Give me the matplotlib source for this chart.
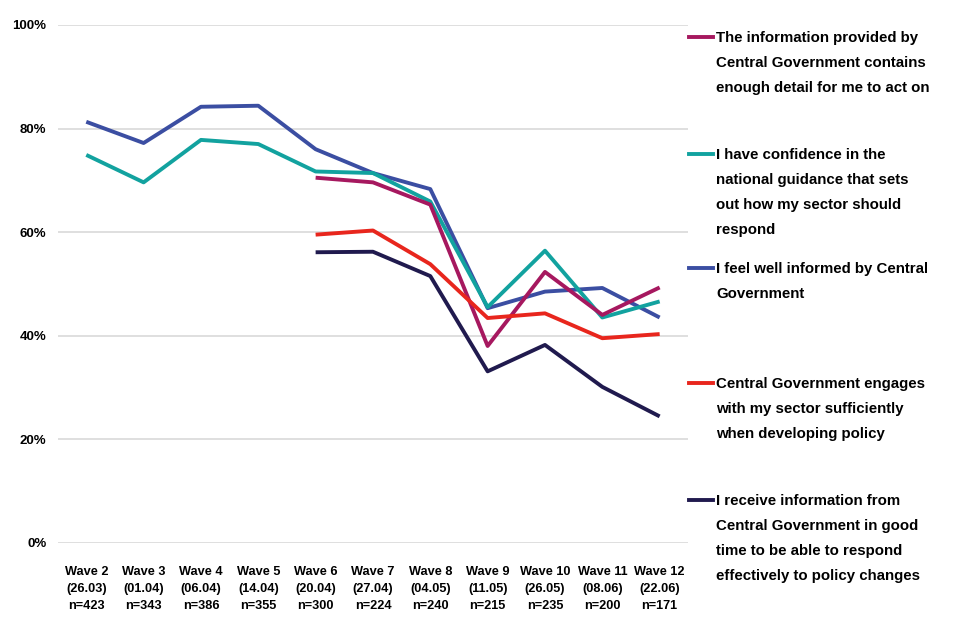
import matplotlib
matplotlib.use("Agg")
import matplotlib.pyplot as plt
from matplotlib.lines import Line2D
import numpy as np

plt.rcParams["font.family"] = ["Liberation Sans", "DejaVu Sans"]
plt.rcParams["font.weight"] = "bold"

waves = ["Wave 2", "Wave 3", "Wave 4", "Wave 5", "Wave 6", "Wave 7",
         "Wave 8", "Wave 9", "Wave 10", "Wave 11", "Wave 12"]
dates = ["26.03", "01.04", "06.04", "14.04", "20.04", "27.04",
         "04.05", "11.05", "26.05", "08.06", "22.06"]
sizes = [423, 343, 386, 355, 300, 224, 240, 215, 235, 200, 171]

nan = np.nan
detail = [nan, nan, nan, nan, 70.5, 69.6, 65.3, 38.0, 52.3, 44.0, 49.3]
confidence = [74.9, 69.6, 77.8, 77.0, 71.7, 71.4, 65.9, 45.5, 56.4, 43.5, 46.6]
informed = [81.3, 77.2, 84.2, 84.4, 76.0, 71.4, 68.3, 45.3, 48.5, 49.2, 43.5]
engages = [nan, nan, nan, nan, 59.5, 60.3, 53.8, 43.4, 44.3, 39.5, 40.3]
timely = [nan, nan, nan, nan, 56.1, 56.2, 51.5, 33.1, 38.2, 30.1, 24.4]

labels = [
    "The information provided by\nCentral Government contains\nenough detail for me to act on",
    "I have confidence in the\nnational guidance that sets\nout how my sector should\nrespond",
    "I feel well informed by Central\nGovernment",
    "Central Government engages\nwith my sector sufficiently\nwhen developing policy",
    "I receive information from\nCentral Government in good\ntime to be able to respond\neffectively to policy changes",
]
colors = ["#a6185f", "#12a29f", "#3b4ea2", "#e8261d", "#201a4e"]
series = [detail, confidence, informed, engages, timely]

fig = plt.figure(figsize=(9.6, 6.4), dpi=100)
ax = fig.add_axes([0.060, 0.152, 0.657, 0.809])

x = np.arange(len(waves))
for idx in [2, 1, 0, 3, 4]:
    ax.plot(x, series[idx], color=colors[idx], linewidth=2.8, solid_capstyle="butt")

ax.set_xlim(-0.5, len(waves) - 0.5)
ax.set_ylim(0, 100)
ax.set_yticks([0, 20, 40, 60, 80, 100])
ax.set_yticklabels([f"{v}%" for v in [0, 20, 40, 60, 80, 100]], fontsize=9.5, fontweight="bold")
ax.set_xticks(x)
ax.set_xticklabels([f"{w}\n({d})\nn={n}" for w, d, n in zip(waves, dates, sizes)],
                   fontsize=9.2, fontweight="bold", linespacing=1.55)
ax.tick_params(axis="x", length=0, pad=17)
ax.tick_params(axis="y", length=0, pad=8)
ax.grid(axis="y", color="#d9d9d9", linewidth=1.2)
ax.set_axisbelow(True)
for s in ax.spines.values():
    s.set_visible(False)

# legend drawn on the right
tops = [37, 154, 268, 383, 500]
W, H = 960, 640
for lab, col, top in zip(labels, colors, tops):
    fig.text(716 / W, 1 - (top - 6) / H, lab, ha="left", va="top",
             fontsize=10.8, fontweight="bold", linespacing=2.0)
    yl = 1 - top / H
    fig.add_artist(Line2D([689 / W, 713 / W], [yl, yl], color=col, linewidth=2.8,
                          transform=fig.transFigure))

fig.savefig("out.png", dpi=100)
